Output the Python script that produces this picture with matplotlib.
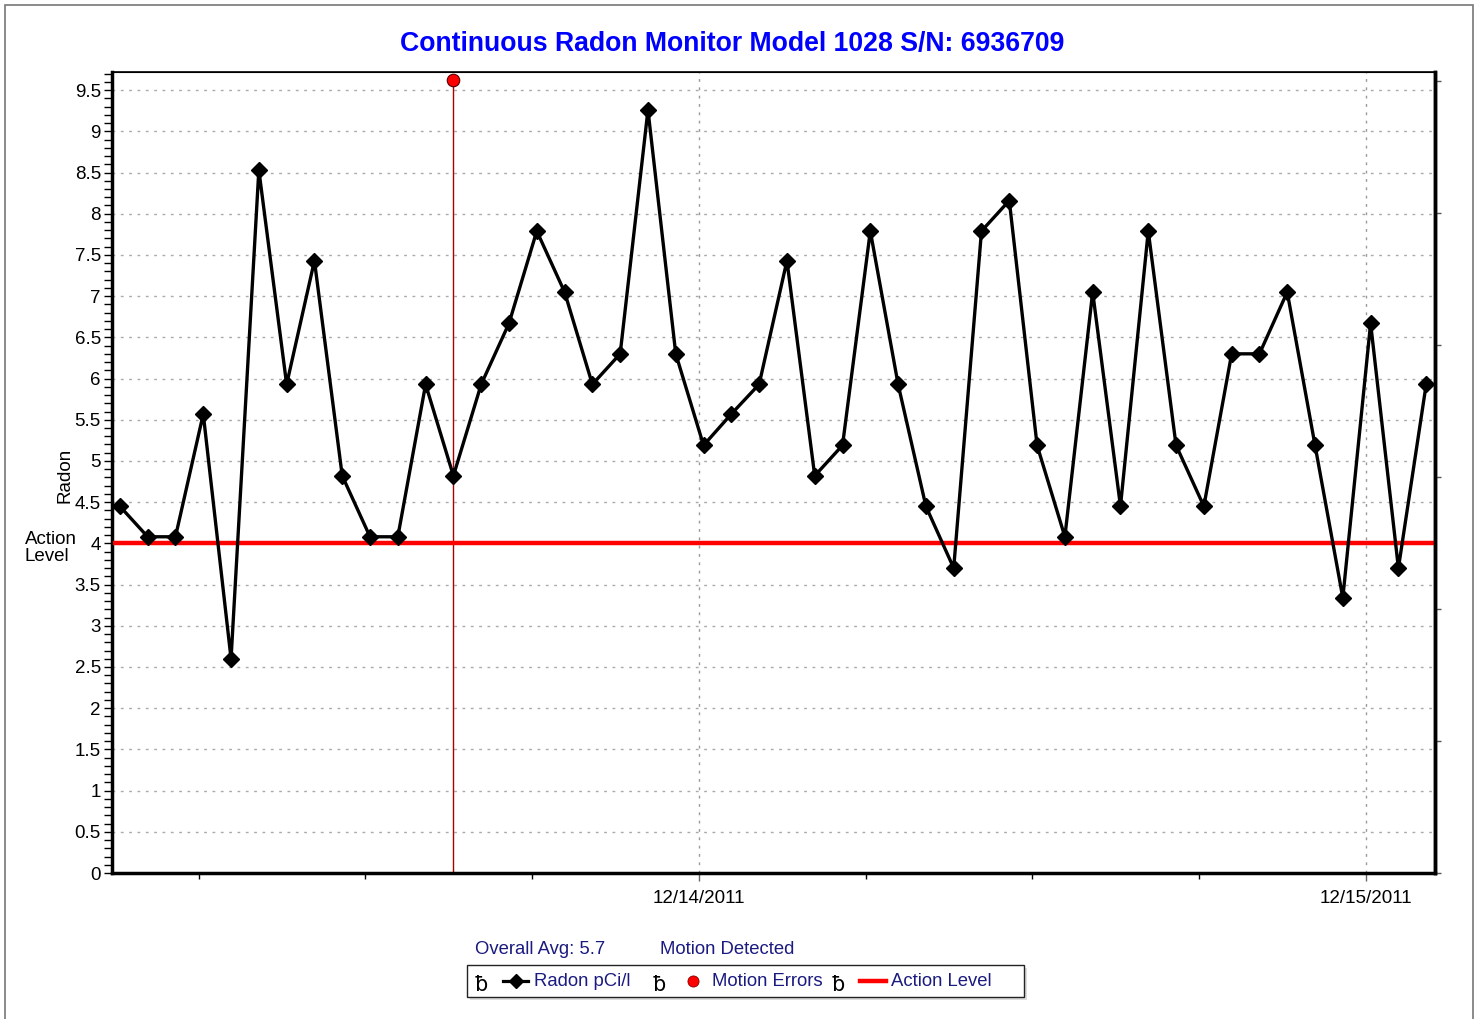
import matplotlib
matplotlib.use("Agg")
import matplotlib.pyplot as plt
import matplotlib.dates as mdates
from matplotlib.patches import Rectangle
from matplotlib.lines import Line2D
from datetime import datetime, timedelta

plt.rcParams['font.family'] = ['Liberation Sans', 'DejaVu Sans']

# hourly radon readings (pCi/l), starting 12/13/2011 03:10
start = datetime(2011, 12, 13, 3, 10)
radon = [4.45, 4.08, 4.08, 5.57, 2.60, 8.53, 5.93, 7.43, 4.82, 4.08,
         4.08, 5.93, 4.82, 5.93, 6.67, 7.79, 7.05, 5.93, 6.30, 9.26,
         6.30, 5.19, 5.57, 5.93, 7.43, 4.82, 5.19, 7.79, 5.93, 4.45,
         3.70, 7.79, 8.16, 5.19, 4.08, 7.05, 4.45, 7.79, 5.19, 4.45,
         6.30, 6.30, 7.05, 5.19, 3.34, 6.67, 3.70, 5.93]
times = [start + timedelta(hours=i) for i in range(len(radon))]

# motion error detected
motion_idx = [12]
motion_val = [9.62]

action_level = 4.0
overall_avg = "5.7"
title = "Continuous Radon Monitor Model 1028 S/N: 6936709"

W, H = 1479, 1019
fig = plt.figure(figsize=(W / 100, H / 100), dpi=100)

# figure border
fig.patches.append(Rectangle((5 / W, -0.02), 1468 / W, 1 - 5 / H + 0.02,
                             transform=fig.transFigure, fill=False,
                             edgecolor='#777777', linewidth=1.2))

ax = fig.add_axes([112 / W, 1 - 873 / H, (1435 - 112) / W, (873 - 72) / H])

navy = '#1a1a80'

# motion error line + marker
for i, v in zip(motion_idx, motion_val):
    ax.plot([times[i], times[i]], [0, v], color='#aa0000', lw=1.0, zorder=2)
    ax.plot(times[i], v, 'o', color='red', mec='#550000', mew=0.8, ms=9, zorder=5)

ax.axhline(action_level, color='red', lw=3.2, zorder=3)
ax.plot(times, radon, color='black', lw=2.4, marker='D', ms=8.5, zorder=4)

ax.set_xlim(start - timedelta(minutes=17), times[-1] + timedelta(minutes=19))
ax.set_ylim(0, 9.72)

# y axis ticks
ax.set_yticks([i * 0.5 for i in range(20)])
ax.set_yticklabels(['%g' % (i * 0.5) for i in range(20)])
ax.yaxis.set_minor_locator(matplotlib.ticker.MultipleLocator(0.1))
ax.tick_params(axis='y', which='both', direction='out', length=6, width=1,
               labelsize=13.5, pad=2)
ax.yaxis.grid(True, which='major', color='#aaaaaa', linestyle=(0, (2, 4)), lw=1)

# x axis: labelled ticks at midnight, small ticks every 6 hours
ax.xaxis.set_major_locator(mdates.HourLocator(byhour=[0]))
ax.xaxis.set_major_formatter(mdates.DateFormatter('%m/%d/%Y'))
ax.xaxis.set_minor_locator(mdates.HourLocator(byhour=[6, 12, 18]))
ax.tick_params(axis='x', which='major', direction='out', length=6, width=1,
               color='#666666', labelsize=13.5, pad=6)
ax.tick_params(axis='x', which='minor', direction='out', length=4, width=1)
ax.xaxis.grid(True, which='major', color='#999999', linestyle=(0, (2, 4)), lw=1)

for s in ['left', 'bottom', 'right']:
    ax.spines[s].set_linewidth(2.5)
ax.spines['top'].set_linewidth(1.2)

# secondary right axis ticks
ax2 = ax.twinx()
ax2.set_ylim(0, 6.07)
ax2.set_yticks(range(7))
ax2.set_yticklabels([])
ax2.tick_params(axis='y', direction='out', length=4, width=1, color='#555555')
ax2.spines['right'].set_linewidth(2.5)

fig.text(732 / W, 1 - 44 / H, title, color='#0000ff', fontsize=19.2,
         fontweight='bold', ha='center', va='center')
fig.text(65 / W, 1 - 475 / H, 'Radon', rotation=90, fontsize=13.5,
         ha='center', va='center')
fig.text(25 / W, 1 - 548 / H, 'Action\nLevel', fontsize=13.5, ha='left',
         va='center', linespacing=0.95)

# legend area
fig.text(475 / W, 1 - 950 / H, 'Overall Avg: ' + overall_avg, color=navy,
         fontsize=13.3, ha='left', va='center')
fig.text(660 / W, 1 - 950 / H, 'Motion Detected', color=navy,
         fontsize=13.3, ha='left', va='center')

fig.patches.append(Rectangle((470 / W, 1 - 1000 / H), 557 / W, 32 / H,
                             transform=fig.transFigure, facecolor='#dddddd',
                             edgecolor='none'))
fig.patches.append(Rectangle((467 / W, 1 - 997 / H), 557 / W, 32 / H,
                             transform=fig.transFigure, facecolor='white',
                             edgecolor='#222222', lw=1))

ly = 1 - 981 / H
for bx in [475, 653, 832]:
    fig.text(bx / W, 1 - 985 / H, 'ƀ', fontsize=15, family=['DejaVu Sans'],
             ha='left', va='center')
fig.lines.append(Line2D([503 / W, 528 / W], [ly, ly], color='black', lw=2.3,
                        transform=fig.transFigure))
fig.lines.append(Line2D([515.5 / W], [ly], color='black', marker='D', ms=7,
                        transform=fig.transFigure))
fig.text(534 / W, ly, 'Radon pCi/l', color=navy, fontsize=13.3, ha='left', va='center')
fig.lines.append(Line2D([693 / W], [ly], color='red', marker='o', ms=8,
                        mec='#880000', mew=0.6, transform=fig.transFigure))
fig.text(712 / W, ly, 'Motion Errors', color=navy, fontsize=13.3, ha='left', va='center')
fig.lines.append(Line2D([860 / W, 886 / W], [ly, ly], color='red', lw=3.2,
                        transform=fig.transFigure))
fig.text(891 / W, ly, 'Action Level', color=navy, fontsize=13.3, ha='left', va='center')

fig.savefig('out.png', dpi=100)
